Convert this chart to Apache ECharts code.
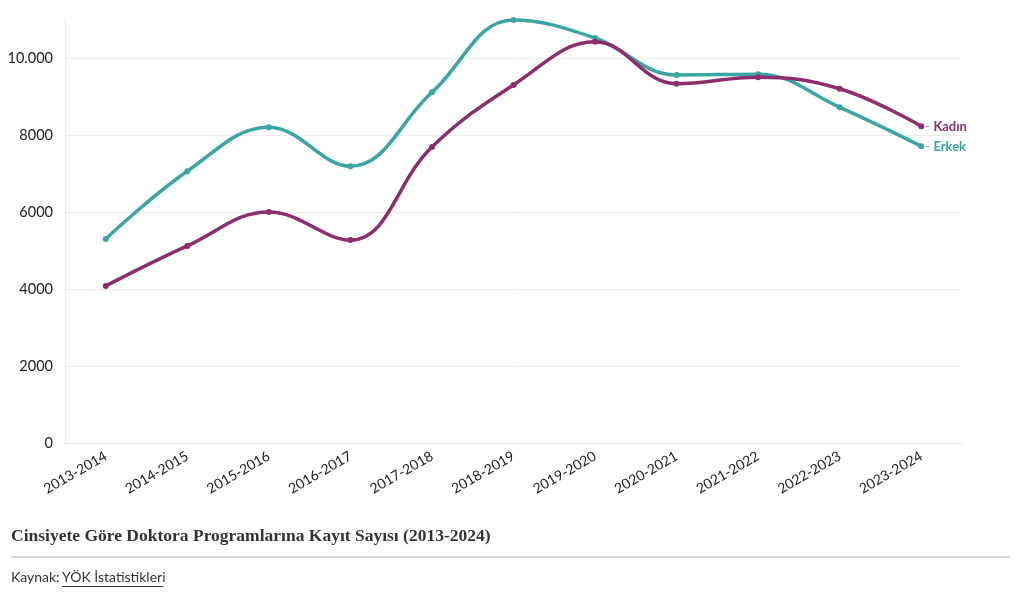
<!DOCTYPE html>
<html><head><meta charset="utf-8">
<script src="https://cdn.jsdelivr.net/npm/echarts@6/dist/echarts.min.js"></script>
<style>html,body{margin:0;padding:0;background:#fff}#c{width:1020px;height:598px}</style>
</head><body><div id="c"></div>
<script>
const categories = ['2013-2014','2014-2015','2015-2016','2016-2017','2017-2018','2018-2019','2019-2020','2020-2021','2021-2022','2022-2023','2023-2024'];
const erkek = [5300, 7060, 8200, 7190, 9110, 10990, 10520, 9560, 9580, 8720, 7710];
const kadin = [4080, 5120, 6000, 5270, 7690, 9300, 10420, 9330, 9500, 9200, 8230];
const yTicks = [0, 2000, 4000, 6000, 8000, 10000];

const teal = '#3aa6a1', purple = '#8b2e6b';
const chart = echarts.init(document.getElementById('c'));
function endLab(name, color){
  return {show:true, distance:4, offset:[0,1], formatter:'{d|- }{n|'+name+'}', rich:{
    d:{color:'#999', fontSize:13, fontFamily:'Lato'},
    n:{color:color, fontSize:13, fontWeight:'bold', fontFamily:'Lato'}}};
}
chart.setOption({
  animation:false,
  grid:{left:65, right:58, top:19.5, bottom:155},
  xAxis:{type:'category', data:categories, boundaryGap:true,
    axisLine:{lineStyle:{color:'#e6e6e6'}},
    axisTick:{alignWithLabel:true, length:5, lineStyle:{color:'#e0e0e0'}},
    axisLabel:{rotate:30, color:'#222', fontSize:14, fontFamily:'Lato', margin:12, interval:0}},
  yAxis:{type:'value', min:0, max:11000, interval:2000,
    axisLine:{show:true, lineStyle:{color:'#ececec'}},
    axisTick:{show:false},
    splitLine:{show:true, showMaxLine:false, lineStyle:{color:'#ededed'}},
    axisLabel:{showMaxLabel:false, color:'#222', fontSize:14.5, fontFamily:'Lato', margin:12,
      formatter:v=> yTicks.indexOf(v)<0 ? '' : (v>=10000 ? String(v).replace(/\B(?=(\d{3})+(?!\d))/g,'.') : String(v))}},
  series:[
    {name:'Erkek', type:'line', data:erkek, smooth:0.4, symbol:'circle', symbolSize:6,
      lineStyle:{width:3.5, color:teal}, itemStyle:{color:teal}, endLabel:endLab('Erkek', teal)},
    {name:'Kadın', type:'line', data:kadin, smooth:0.4, symbol:'circle', symbolSize:6,
      lineStyle:{width:3.5, color:purple}, itemStyle:{color:purple}, endLabel:endLab('Kadın', purple)}
  ],
  graphic:[
    {type:'text', left:11, top:527, style:{text:'Cinsiyete Göre Doktora Programlarına Kayıt Sayısı (2013-2024)', fill:'#333', font:'bold 17.5px "Liberation Serif"'}},
    {type:'rect', shape:{x:11, y:556, width:999, height:2}, style:{fill:'#d6d6d6'}},
    {type:'text', left:11, top:570, style:{text:'Kaynak:', fill:'#333', font:'14px Lato'}},
    {type:'text', left:62, top:570, style:{text:'YÖK İstatistikleri', fill:'#333', font:'14px Lato'}},
    {type:'rect', shape:{x:62, y:586, width:101, height:1}, style:{fill:'#333'}}
  ]
});
</script></body></html>
